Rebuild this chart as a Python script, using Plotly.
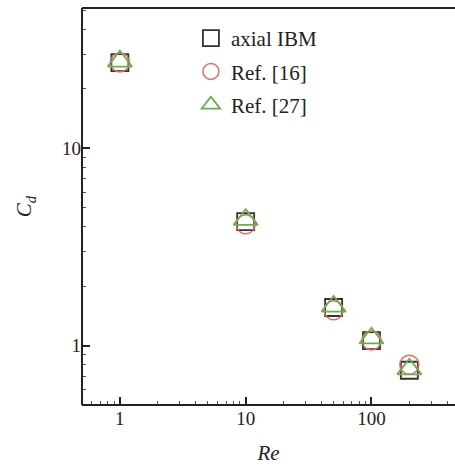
import numpy as np
import plotly.graph_objects as go

re_vals = [1, 10, 50, 100, 200]
cd_ibm = [27.2, 4.25, 1.56, 1.06, 0.75]
cd_ref16 = [27.2, 4.12, 1.51, 1.06, 0.80]
cd_ref27 = [27.6, 4.35, 1.58, 1.09, 0.76]

FONT = "Liberation Serif"
AX = "#222222"

fig = go.Figure()
fig.add_trace(go.Scatter(x=re_vals, y=cd_ibm, mode="markers", name="axial IBM", legendgroup="a",
                         marker=dict(symbol="square-open", size=17, color="#333333",
                                     line=dict(width=1.8, color="#333333"))))
fig.add_trace(go.Scatter(x=re_vals, y=cd_ref16, mode="markers", name="Ref. [16]", legendgroup="b",
                         marker=dict(symbol="circle-open", size=19, color="#e06a6a",
                                     line=dict(width=1.5, color="#e06a6a"))))
fig.add_trace(go.Scatter(x=re_vals, y=cd_ref27, mode="markers", name="Ref. [27]", legendgroup="c",
                         marker=dict(symbol="triangle-up-open", size=21, color="#6cae4e",
                                     line=dict(width=1.8, color="#6cae4e"))))

# frame: left, bottom, top (no right border, as in the reference)
for (x0, y0, x1, y1) in [(0, 0, 0, 1), (0, 0, 1, 0), (0, 1, 1, 1)]:
    fig.add_shape(type="line", xref="paper", yref="paper", x0=x0, y0=y0, x1=x1, y1=y1,
                  line=dict(color=AX, width=2), layer="above")

fig.update_layout(
    width=455, height=468,
    margin=dict(l=82, r=0, t=8, b=63),
    paper_bgcolor="white", plot_bgcolor="white",
    font=dict(family=FONT, size=19, color=AX),
    showlegend=True,
    legend=dict(x=0.292, y=0.975, xanchor="left", yanchor="top",
                bgcolor="rgba(0,0,0,0)", font=dict(size=21, family=FONT, color=AX),
                itemsizing="trace", tracegroupgap=3),
    xaxis=dict(type="log", range=[np.log10(0.5), 2.664],
               showline=False, mirror=False,
               ticks="inside", ticklen=8, tickwidth=1.5, tickcolor=AX,
               tickvals=[1, 10, 100], ticktext=["1", "10", "100"],
               showgrid=False, zeroline=False,
               minor=dict(ticks="inside", ticklen=4, tickwidth=1, tickcolor="#555555",
                          tickvals=[0.6, 0.7, 0.8, 0.9, 2, 3, 4, 5, 6, 7, 8, 9,
                                    20, 30, 40, 50, 60, 70, 80, 90, 200, 300, 400],
                          showgrid=False),
               title=dict(text="<i>Re</i>", font=dict(size=21, family=FONT), standoff=17)),
    yaxis=dict(type="log", range=[np.log10(0.5), 1.711],
               showline=False, mirror=False,
               ticks="inside", ticklen=8, tickwidth=1.5, tickcolor=AX,
               tickvals=[1, 10], ticktext=["1", "10"],
               showgrid=False, zeroline=False,
               minor=dict(ticks="inside", ticklen=4, tickwidth=1, tickcolor="#555555",
                          tickvals=[0.6, 0.7, 0.8, 0.9, 2, 3, 4, 5, 6, 7, 8, 9,
                                    20, 30, 40, 50],
                          showgrid=False),
               title=dict(text="<i>C<sub>d</sub></i>", font=dict(size=21, family=FONT), standoff=24)),
)

fig.write_html("out.html", config={"displayModeBar": False},
               post_script="document.body.style.margin='0';document.body.style.overflow='hidden';")
